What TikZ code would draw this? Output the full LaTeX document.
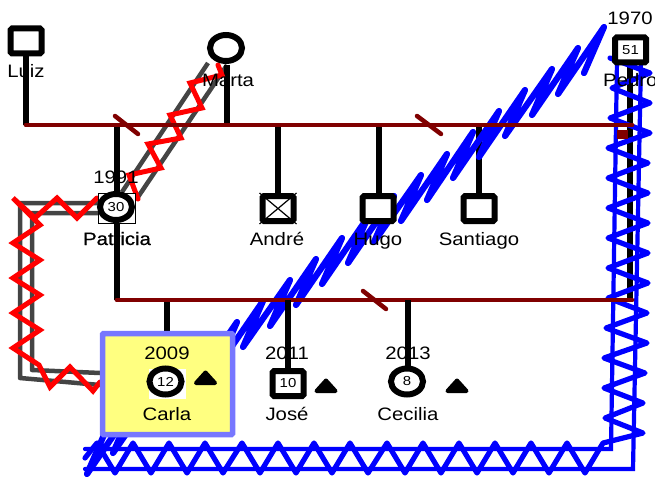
\documentclass[tikz,border=0pt]{standalone}
\usepackage{fontspec}
\setmainfont{Liberation Sans}
\newfontfamily\heavyfont[FakeBold=0.7]{Liberation Sans}
\usetikzlibrary{shapes.geometric}
\definecolor{rel}{HTML}{800000}
\definecolor{grayrel}{HTML}{444444}
\definecolor{hlborder}{HTML}{7777FF}
\definecolor{hlfill}{HTML}{FFFF80}
\newcommand{\lab}[1]{\scalebox{1.13}[1]{\fontsize{18}{18}\selectfont #1}}
\newcommand{\num}[1]{\scalebox{1.15}[1]{\fontsize{13}{13}\selectfont #1}}
\tikzset{
  man/.style={draw=black,fill=white,line width=6pt,rounded corners=1.5pt,minimum width=31pt,minimum height=25pt,inner sep=0pt},
  woman/.style={draw=black,fill=white,line width=6pt,ellipse,minimum width=32pt,minimum height=26pt,inner sep=0pt},
  backing/.style={fill=white,minimum width=37pt,minimum height=30pt,inner sep=0pt},
  txt/.style={inner sep=0pt,text=black,anchor=base},
  desc/.style={line width=5.5pt,black},
  couple/.style={line width=4.8pt,rel,line cap=round},
  slash/.style={line width=4.5pt,rel,line cap=round},
  graydbl/.style={line width=4.5pt,grayrel,line join=round},
  redzig/.style={line width=5pt,red,line join=miter,line cap=round},
  bluedbl/.style={line width=4.2pt,blue},
  bluezig/.style={line width=5.2pt,blue,line cap=round,line join=round},
  bluediag/.style={line width=6.2pt,blue,line cap=round,line join=round},
  tri/.style={fill=black,draw=black,line width=4pt,line join=round},
}
\begin{document}
\begin{tikzpicture}[x=1pt,y=-1pt]
\useasboundingbox (0,0) rectangle (655,476);
% junction coordinates
\coordinate (jLuiz) at (26,125);
\coordinate (jMarta) at (227,125);
\coordinate (jPat) at (117,125);
\coordinate (jAndre) at (278,125);
\coordinate (jHugo) at (379,125);
\coordinate (jSant) at (479,125);
\coordinate (jEnd) at (632,125);
\coordinate (kPat) at (117,300);
\coordinate (kCarla) at (167,300);
\coordinate (kJose) at (288,300);
\coordinate (kCec) at (408,300);
\coordinate (kEnd) at (632,300);
\coordinate (pMarta) at (226,48);
\coordinate (pPedro) at (630,50);
\coordinate (pCarla) at (167,333);

% grey double lines
\draw[graydbl] (208,63) -- (122,192);
\draw[graydbl] (227,65) -- (138,197);
\draw[graydbl] (100,203) -- (20,203) -- (20,378) -- (100,385);
\draw[graydbl] (100,213) -- (32,213) -- (32,370) -- (100,373);

% black descent lines under the zigzags
\draw[desc] (jLuiz) -- (26,55);
\draw[desc] (jMarta) -- (227,65);
\draw[desc] (jPat) -- (kPat);
\draw[desc] (jAndre) -- (278,195);
\draw[desc] (jHugo) -- (379,195);
\draw[desc] (jSant) -- (479,195);
\draw[desc] (pPedro) -- (630,300);
\draw[desc] (kCarla) -- (pCarla);

% blue double line
\draw[bluedbl,line cap=round] (85,449) -- (611,449) -- (617,60);
\draw[bluedbl,line cap=round] (85,469) -- (633,469) -- (641,60);
% blue zigzag, bottom and right
\draw[bluezig] (85,458) -- (97,443) -- (115,473) -- (133,443) -- (151,473) -- (169,443) -- (187,473) -- (205,443) -- (223,473) -- (242,443) -- (260,473) -- (278,443) -- (296,473) -- (314,443) -- (332,473) -- (350,443) -- (368,473) -- (387,443) -- (405,473) -- (423,443) -- (441,473) -- (459,443) -- (477,473) -- (495,443) -- (513,473) -- (531,443) -- (549,473) -- (567,443) -- (585,473) -- (603,443) -- (643,433) -- (605,418) -- (643,403) -- (604,388) -- (645,373) -- (604,358) -- (647,343) -- (606,328) -- (647,313) -- (608,298) -- (648,283) -- (608,268) -- (648,253) -- (608,238) -- (648,223) -- (608,208) -- (648,193) -- (608,178) -- (648,163) -- (608,148) -- (650,133) -- (610,118) -- (650,103) -- (612,88) -- (650,73) -- (610,58);
% blue zigzag, diagonal
\draw[bluediag] (584,73) -- (604,27) -- (558,94) -- (578,48) -- (532,115) -- (552,69) -- (505,136) -- (525,90) -- (479,157) -- (499,111) -- (453,178) -- (473,132) -- (427,200) -- (447,154) -- (401,221) -- (421,175) -- (374,242) -- (394,196) -- (348,263) -- (368,217) -- (322,284) -- (342,238) -- (296,305) -- (316,259) -- (270,326) -- (290,280) -- (243,347) -- (263,301) -- (217,368) -- (237,322) -- (191,389) -- (211,343) -- (165,411) -- (185,365) -- (139,432) -- (159,386) -- (113,453) -- (133,407) -- (87,474) -- (107,428);

% red zigzags
\draw[redzig] (218,65) -- (222,75) -- (190,83) -- (202,108) -- (170,115) -- (181,138) -- (148,144) -- (161,168) -- (129,175) -- (138,199);
\draw[redzig] (97,198) -- (77,218) -- (57,198) -- (35,218) -- (13,198) -- (40,225) -- (13,243) -- (40,260) -- (13,278) -- (40,295) -- (13,313) -- (40,330) -- (13,348) -- (39,365) -- (50,387) -- (70,367) -- (93,391) -- (100,382);

% couple lines
\draw[couple] (jLuiz) -- (jEnd);
\draw[couple] (kPat) -- (kEnd);
\draw[slash] (115,116) -- (138,134);
\draw[slash] (417,116) -- (441,134);
\draw[slash] (363,291) -- (386,309);
\fill[rel] (616.5,129.5) rectangle (627.5,138.5);

% descents drawn above the couple lines
\draw[desc] (kJose) -- (288,370);
\draw[desc] (kCec) -- (408,370);

% highlighted box
\node[draw=hlborder,fill=hlfill,line width=5.5pt,minimum width=130pt,minimum height=101pt,inner sep=0pt,rounded corners=1pt] (hl) at (167.5,384) {};

% persons
\node[man] (luiz) at (26,41) {};
\node[woman] (marta) at (pMarta) {};
\node[backing,draw=black,line width=.6pt] (patbg) at (117,208) {};
\node[woman] (patricia) at (116,207) {\num{30}};
\node[man] (andre) at (278,208.5) {};
\draw[line width=1.2pt] (andre.north west) -- (andre.south east) (andre.north east) -- (andre.south west);
\node[man] (hugo) at (378,208.5) {};
\node[man] (santiago) at (479,208.5) {};
\node[man] (pedro) at (630.5,50) {\num{51}};
\node[backing] (carlabg) at (167.5,384) {};
\node[woman] (carla) at (165.5,381.5) {\num{12}};
\node[man] (jose) at (288,383.5) {\num{10}};
\node[woman] (cecilia) at (407,381.5) {\num{8}};

% status triangles
\draw[tri] (205.5,372.5) -- (215,383) -- (196,383) -- cycle;
\draw[tri] (326,380.5) -- (335.5,391) -- (316.5,391) -- cycle;
\draw[tri] (457,380.5) -- (466.5,391) -- (447.5,391) -- cycle;

% texts
\node[txt] (tLuiz) at (26,78) {\lab{Luiz}};
\node[txt] (tMarta) at (228,87) {\lab{Marta}};
\node[txt] (tPatY) at (116,183) {\lab{1991}};
\node[txt] (tPat) at (117,245) {\lab{\heavyfont Patricia}};
\node[txt] (tAndre) at (277,245) {\lab{André}};
\node[txt] (tHugo) at (378,245) {\lab{Hugo}};
\node[txt] (tSant) at (479,245) {\lab{Santiago}};
\node[txt] (tPedY) at (630,25) {\lab{1970}};
\node[txt,anchor=base west] (tPed) at (603,87) {\lab{Pedro}};
\node[txt] (tCarY) at (167,359) {\lab{2009}};
\node[txt] (tCar) at (167,420) {\lab{Carla}};
\node[txt] (tJosY) at (287,359) {\lab{2011}};
\node[txt] (tJos) at (287,420) {\lab{José}};
\node[txt] (tCecY) at (408,359) {\lab{2013}};
\node[txt] (tCec) at (408,420) {\lab{Cecilia}};
\end{tikzpicture}
\end{document}
